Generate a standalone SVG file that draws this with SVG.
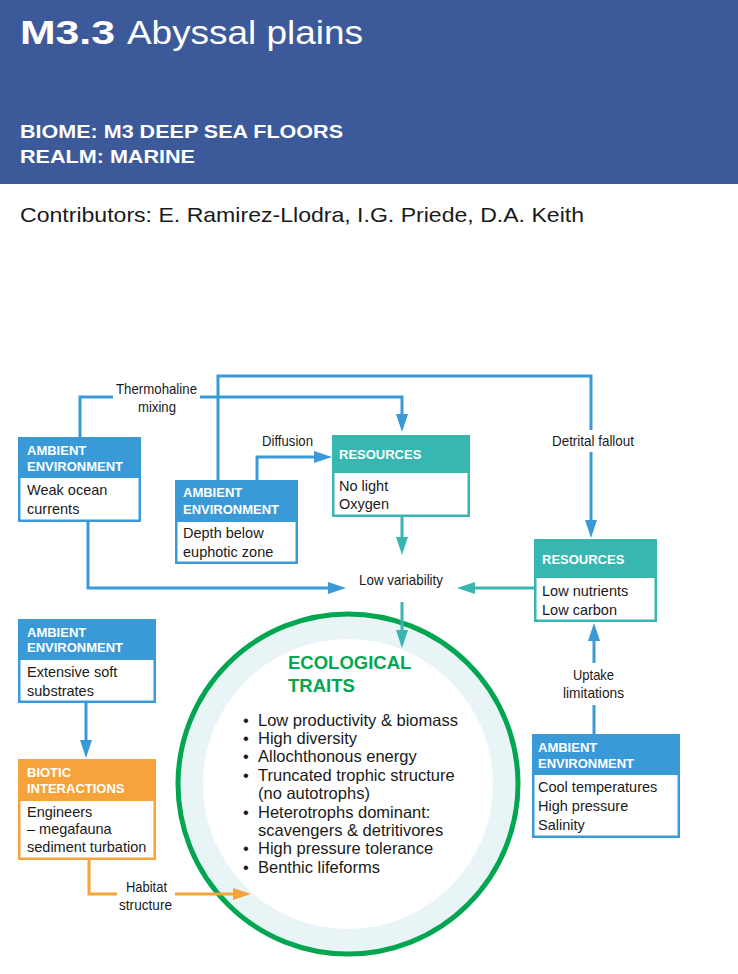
<svg xmlns="http://www.w3.org/2000/svg" width="738" height="974" viewBox="0 0 738 974">
<style>
.hd{font-family:"Liberation Sans",Arial,sans-serif;font-weight:bold;font-size:13px;fill:#ffffff}
.bd{font-family:"Liberation Sans",Arial,sans-serif;font-size:14.5px;fill:#1a1a1a}
.lbl{font-family:"Liberation Sans Narrow","Liberation Sans",Arial,sans-serif;font-size:15px;fill:#1a1a1a;text-anchor:middle}
.bul{font-family:"Liberation Sans",Arial,sans-serif;font-size:16.5px;fill:#1a1a1a}
.blue{stroke:#3a9ad8;stroke-width:3;fill:none}
.teal{stroke:#38b6b1;stroke-width:3;fill:none}
.orange{stroke:#f6a33b;stroke-width:3;fill:none}
.cb{fill:#3a9ad8}
.ct{fill:#38b6b1}
.co{fill:#f6a33b}
.in{fill:#ffffff}
</style>
<defs>
<marker id="ab" markerUnits="userSpaceOnUse" markerWidth="18" markerHeight="12" refX="8" refY="6" orient="auto"><path d="M0,0 L18,6 L0,12 z" fill="#3a9ad8"/></marker>
<marker id="at" markerUnits="userSpaceOnUse" markerWidth="18" markerHeight="12" refX="8" refY="6" orient="auto"><path d="M0,0 L18,6 L0,12 z" fill="#38b6b1"/></marker>
<marker id="ao" markerUnits="userSpaceOnUse" markerWidth="18" markerHeight="12" refX="8" refY="6" orient="auto"><path d="M0,0 L18,6 L0,12 z" fill="#f6a33b"/></marker>
</defs>

<g id="header">
<rect x="0" y="0" width="738" height="184" fill="#3c5a99"/>
<text x="20" y="44" font-family="Liberation Sans,Arial,sans-serif" font-size="34" fill="#ffffff"><tspan font-weight="bold" textLength="95" lengthAdjust="spacingAndGlyphs">M3.3</tspan><tspan x="127" textLength="236" lengthAdjust="spacingAndGlyphs">Abyssal plains</tspan></text>
<text x="20" y="138" font-family="Liberation Sans,Arial,sans-serif" font-size="19" font-weight="bold" fill="#ffffff" textLength="323" lengthAdjust="spacingAndGlyphs">BIOME: M3 DEEP SEA FLOORS</text>
<text x="20" y="163" font-family="Liberation Sans,Arial,sans-serif" font-size="19" font-weight="bold" fill="#ffffff" textLength="175" lengthAdjust="spacingAndGlyphs">REALM: MARINE</text>
<text x="20" y="222" font-family="Liberation Sans,Arial,sans-serif" font-size="21" fill="#1a1a1a" textLength="564" lengthAdjust="spacingAndGlyphs">Contributors: E. Ramirez-Llodra, I.G. Priede, D.A. Keith</text>
</g>

<g id="traits">
<circle cx="348" cy="784" r="170" fill="#e9f4f7" stroke="#00a650" stroke-width="5"/>
<circle cx="348" cy="784" r="145" fill="#ffffff"/>
<text x="288" y="669" font-family="Liberation Sans,Arial,sans-serif" font-size="18.5" font-weight="bold" fill="#00a650">ECOLOGICAL</text>
<text x="288" y="692" font-family="Liberation Sans,Arial,sans-serif" font-size="18.5" font-weight="bold" fill="#00a650">TRAITS</text>
<text class="bul" x="243" y="726">•</text><text class="bul" x="258" y="726">Low productivity &amp; biomass</text>
<text class="bul" x="243" y="744">•</text><text class="bul" x="258" y="744">High diversity</text>
<text class="bul" x="243" y="762">•</text><text class="bul" x="258" y="762">Allochthonous energy</text>
<text class="bul" x="243" y="781">•</text><text class="bul" x="258" y="781">Truncated trophic structure</text>
<text class="bul" x="258" y="799">(no autotrophs)</text>
<text class="bul" x="243" y="818">•</text><text class="bul" x="258" y="818">Heterotrophs dominant:</text>
<text class="bul" x="258" y="836">scavengers &amp; detritivores</text>
<text class="bul" x="243" y="854">•</text><text class="bul" x="258" y="854">High pressure tolerance</text>
<text class="bul" x="243" y="873">•</text><text class="bul" x="258" y="873">Benthic lifeforms</text>
</g>

<g id="connectors">
<path class="blue" d="M80,437 V397 H113"/>
<path class="blue" d="M200,397 H402 V422" marker-end="url(#ab)"/>
<path class="blue" d="M218,480 V376 H591 V430"/>
<path class="blue" d="M591,452 V528" marker-end="url(#ab)"/>
<path class="blue" d="M257,480 V457 H322" marker-end="url(#ab)"/>
<path class="blue" d="M88,522 V588 H336" marker-end="url(#ab)"/>
<path class="blue" d="M86,703 V748" marker-end="url(#ab)"/>
<path class="blue" d="M594,734 V705"/>
<path class="blue" d="M594,663 V633" marker-end="url(#ab)"/>
<path class="teal" d="M402,517 V545" marker-end="url(#at)"/>
<path class="teal" d="M534,588 H467" marker-end="url(#at)"/>
<path class="teal" d="M402,602 V638" marker-end="url(#at)"/>
<path class="orange" d="M89,860 V894 H117"/>
<path class="orange" d="M175,894 H241" marker-end="url(#ao)"/>
<text class="lbl" x="156.5" y="394" textLength="81" lengthAdjust="spacingAndGlyphs">Thermohaline</text>
<text class="lbl" x="157" y="412" textLength="38" lengthAdjust="spacingAndGlyphs">mixing</text>
<text class="lbl" x="287.5" y="446" textLength="51" lengthAdjust="spacingAndGlyphs">Diffusion</text>
<text class="lbl" x="593" y="446" textLength="82" lengthAdjust="spacingAndGlyphs">Detrital fallout</text>
<text class="lbl" x="401" y="585" textLength="84" lengthAdjust="spacingAndGlyphs">Low variability</text>
<text class="lbl" x="593.5" y="680" textLength="41" lengthAdjust="spacingAndGlyphs">Uptake</text>
<text class="lbl" x="593.5" y="698" textLength="61" lengthAdjust="spacingAndGlyphs">limitations</text>
<text class="lbl" x="146.5" y="892" textLength="41" lengthAdjust="spacingAndGlyphs">Habitat</text>
<text class="lbl" x="145.5" y="910" textLength="53" lengthAdjust="spacingAndGlyphs">structure</text>
</g>

<g id="amb-currents">
<rect class="cb" x="18" y="437" width="123" height="85"/>
<rect class="in" x="20.5" y="478" width="118" height="41.5"/>
<text class="hd" x="27" y="455">AMBIENT</text>
<text class="hd" x="27" y="471">ENVIRONMENT</text>
<text class="bd" x="27" y="495">Weak ocean</text>
<text class="bd" x="27" y="514">currents</text>
</g>

<g id="amb-depth">
<rect class="cb" x="175" y="480" width="123" height="84"/>
<rect class="in" x="177.5" y="522" width="118" height="39.5"/>
<text class="hd" x="183" y="497">AMBIENT</text>
<text class="hd" x="183" y="514">ENVIRONMENT</text>
<text class="bd" x="183" y="538">Depth below</text>
<text class="bd" x="183" y="557">euphotic zone</text>
</g>

<g id="res-light">
<rect class="ct" x="332" y="435" width="138" height="82"/>
<rect class="in" x="334.5" y="473" width="133" height="41.5"/>
<text class="hd" x="339" y="459">RESOURCES</text>
<text class="bd" x="339" y="491">No light</text>
<text class="bd" x="339" y="509">Oxygen</text>
</g>

<g id="res-nutrients">
<rect class="ct" x="534" y="539" width="123" height="83"/>
<rect class="in" x="536.5" y="578" width="118" height="41.5"/>
<text class="hd" x="542" y="564">RESOURCES</text>
<text class="bd" x="542" y="596">Low nutrients</text>
<text class="bd" x="542" y="615">Low carbon</text>
</g>

<g id="amb-substrates">
<rect class="cb" x="18" y="619" width="138" height="84"/>
<rect class="in" x="20.5" y="660" width="133" height="40.5"/>
<text class="hd" x="27" y="637">AMBIENT</text>
<text class="hd" x="27" y="652">ENVIRONMENT</text>
<text class="bd" x="27" y="677">Extensive soft</text>
<text class="bd" x="27" y="696">substrates</text>
</g>

<g id="biotic">
<rect class="co" x="18" y="759" width="138" height="101"/>
<rect class="in" x="20.5" y="801" width="133" height="56.5"/>
<text class="hd" x="27" y="777">BIOTIC</text>
<text class="hd" x="27" y="793">INTERACTIONS</text>
<text class="bd" x="27" y="817">Engineers</text>
<text class="bd" x="27" y="834">– megafauna</text>
<text class="bd" x="27" y="852">sediment turbation</text>
</g>

<g id="amb-temperature">
<rect class="cb" x="532" y="734" width="148" height="104"/>
<rect class="in" x="534.5" y="775" width="143" height="60.5"/>
<text class="hd" x="538" y="752">AMBIENT</text>
<text class="hd" x="538" y="768">ENVIRONMENT</text>
<text class="bd" x="538" y="792">Cool temperatures</text>
<text class="bd" x="538" y="811">High pressure</text>
<text class="bd" x="538" y="830">Salinity</text>
</g>
</svg>
